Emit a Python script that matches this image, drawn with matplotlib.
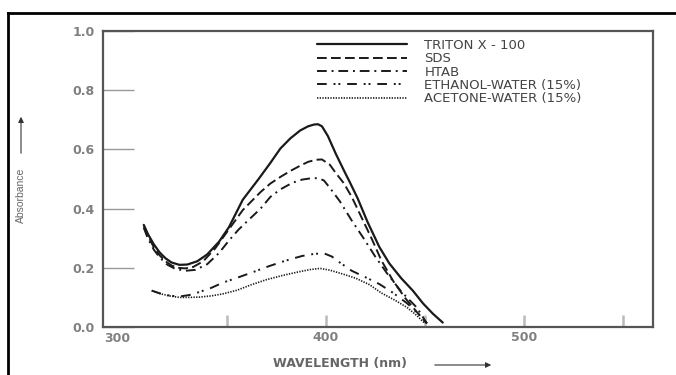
import numpy as np
import matplotlib.pyplot as plt
from matplotlib.lines import Line2D
from matplotlib.patches import FancyArrowPatch

plt.rcParams['font.family'] = ['DejaVu Sans']

# lainepikkus (nm) ja neeldumine, loetud pildilt
wl_triton = [308, 310, 313, 316, 319, 322, 326, 330, 335, 340, 346, 351, 358, 366, 372, 377, 382, 387, 391, 394, 396, 398, 401, 405, 409, 412, 416, 421, 427, 432, 438, 444, 449, 454, 459]
ab_triton = [0.345, 0.315, 0.28, 0.252, 0.232, 0.218, 0.21, 0.211, 0.222, 0.245, 0.288, 0.337, 0.43, 0.50, 0.555, 0.603, 0.637, 0.664, 0.678, 0.684, 0.685, 0.678, 0.645, 0.585, 0.53, 0.49, 0.435, 0.355, 0.27, 0.215, 0.165, 0.122, 0.08, 0.045, 0.015]

wl_sds = [308, 310, 313, 316, 319, 322, 325, 329, 333, 338, 344, 351, 358, 367, 372, 377, 382, 387, 391, 395, 398, 402, 405, 409, 413, 418, 423, 428, 434, 440, 446, 451]
ab_sds = [0.34, 0.31, 0.27, 0.242, 0.222, 0.208, 0.2, 0.198, 0.203, 0.222, 0.265, 0.33, 0.395, 0.456, 0.485, 0.507, 0.527, 0.545, 0.558, 0.565, 0.566, 0.548, 0.52, 0.486, 0.44, 0.37, 0.3, 0.225, 0.155, 0.098, 0.05, 0.012]

wl_htab = [308, 310, 313, 316, 320, 324, 329, 334, 340, 346, 351, 356, 361, 367, 372, 377, 383, 388, 392, 396, 399, 402, 407, 413, 419, 425, 431, 438, 446, 451]
ab_htab = [0.335, 0.3, 0.262, 0.235, 0.21, 0.196, 0.19, 0.193, 0.212, 0.25, 0.292, 0.33, 0.362, 0.4, 0.44, 0.465, 0.487, 0.498, 0.502, 0.503, 0.495, 0.47, 0.425, 0.36, 0.3, 0.237, 0.18, 0.12, 0.065, 0.012]

wl_ethanol = [312, 316, 321, 326, 331, 336, 342, 348, 355, 363, 371, 380, 388, 394, 399, 403, 407, 413, 420, 427, 434, 441, 447, 451]
ab_ethanol = [0.123, 0.114, 0.106, 0.103, 0.108, 0.118, 0.132, 0.15, 0.166, 0.185, 0.205, 0.225, 0.24, 0.247, 0.249, 0.238, 0.218, 0.19, 0.168, 0.145, 0.115, 0.08, 0.042, 0.012]

wl_acetone = [312, 316, 321, 326, 331, 336, 342, 348, 355, 362, 370, 378, 386, 392, 397, 402, 408, 415, 422, 428, 435, 441, 446, 450]
ab_acetone = [0.123, 0.113, 0.105, 0.1, 0.1, 0.101, 0.105, 0.112, 0.124, 0.142, 0.16, 0.174, 0.186, 0.194, 0.198, 0.192, 0.18, 0.165, 0.143, 0.115, 0.09, 0.066, 0.038, 0.012]

names = ['TRITON X - 100', 'SDS', 'HTAB', 'ETHANOL-WATER (15%)', 'ACETONE-WATER (15%)']

fig = plt.figure(figsize=(6.76, 3.75), dpi=100)
ax = fig.add_axes([103/676, 1 - 327/375, (653 - 103)/676, (327 - 31)/375])

# raam ümber pildi (üleval ja vasakul)
fig.add_artist(Line2D([8/676, 1], [1 - 13/375, 1 - 13/375], transform=fig.transFigure, color='black', lw=2))
fig.add_artist(Line2D([8/676, 8/676], [0, 1 - 13/375], transform=fig.transFigure, color='black', lw=2))

stiilid = [
    dict(ls='-', lw=1.6),
    dict(ls=(0, (5, 2.2)), lw=1.4),
    dict(ls=(0, (5, 2.5, 1, 2.5)), lw=1.4),
    dict(ls=(0, (5, 3.5, 1, 1.5, 1, 3.5)), lw=1.4),
    dict(ls=(0, (0.8, 0.8)), lw=1.2),
]
andmed = [(wl_triton, ab_triton), (wl_sds, ab_sds), (wl_htab, ab_htab),
          (wl_ethanol, ab_ethanol), (wl_acetone, ab_acetone)]
for (w, a), st, nimi in zip(andmed, stiilid, names):
    ax.plot(w, a, color='#1a1a1a', label=nimi, solid_capstyle='round', **st)

ax.set_xlim(287.4, 565.2)
ax.set_ylim(0, 1.0)

for s in ax.spines.values():
    s.set_color('#555555')
    s.set_linewidth(1.6)

# y: pikad sisemised kriipsud
ax.set_yticks([0.0, 0.2, 0.4, 0.6, 0.8, 1.0])
ax.set_yticklabels(['0.0', '0.2', '0.4', '0.6', '0.8', '1.0'])
ax.tick_params(axis='y', direction='in', length=22, width=1.0, color='#999999',
               labelcolor='#808080', labelsize=9, pad=6)
for lab in ax.get_yticklabels():
    lab.set_fontweight('bold')

# x: kriipsud 350..550, sildid 300/400/500
ax.set_xticks([350, 400, 450, 500, 550])
ax.set_xticklabels(['', '400', '', '500', ''])
ax.tick_params(axis='x', direction='in', length=9, width=1.8, color='#bbbbbb',
               labelcolor='#808080', labelsize=9, pad=3)
for lab in ax.get_xticklabels():
    lab.set_fontweight('bold')
ax.text(117/676, 1 - 338/375, '300', transform=fig.transFigure, ha='center', va='center',
        fontsize=9, fontweight='bold', color='#808080')

leg = ax.legend(loc='upper left', bbox_to_anchor=(0.378, 0.995), frameon=False,
                handlelength=6.8, handletextpad=1.3, labelspacing=0.02,
                fontsize=9.5, borderpad=0)
for t in leg.get_texts():
    t.set_color('#444444')

fig.text(340/676, 1 - 364/375, 'WAVELENGTH (nm)', ha='center', va='center',
         fontsize=9, color='#666666', fontweight='bold')
fig.add_artist(FancyArrowPatch(
    (432/676, 1 - 365/375), (494/676, 1 - 365/375), transform=fig.transFigure,
    arrowstyle='-|>', mutation_scale=8, color='#333333', lw=0.8))

fig.text(21/676, 1 - 195/375, 'Absorbance', rotation=90, ha='center', va='center',
         fontsize=7.5, color='#666666', family='Liberation Sans', fontstretch='condensed')
fig.add_artist(FancyArrowPatch(
    (21/676, 1 - 156/375), (21/676, 1 - 114/375), transform=fig.transFigure,
    arrowstyle='-|>', mutation_scale=8, color='#333333', lw=0.8))

fig.savefig('out.png', dpi=100)
